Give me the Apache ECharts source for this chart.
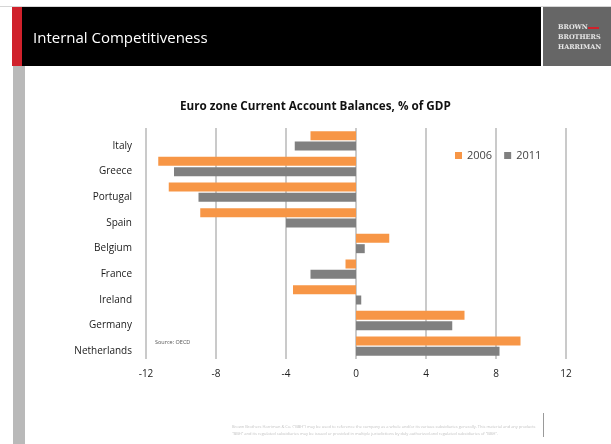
<!DOCTYPE html>
<html>
<head>
<meta charset="utf-8">
<style>
  html, body { margin: 0; padding: 0; background: #ffffff; }
  #chart { width: 611px; height: 444px; }
</style>
<script src="https://cdn.jsdelivr.net/npm/echarts@6/dist/echarts.min.js"></script>
</head>
<body>
<div id="chart"></div>
<script>
// Euro zone current account balances, % of GDP
const countries = ['Italy', 'Greece', 'Portugal', 'Spain', 'Belgium', 'France', 'Ireland', 'Germany', 'Netherlands'];
const balance2006 = [-2.6, -11.3, -10.7, -8.9, 1.9, -0.6, -3.6, 6.2, 9.4];
const balance2011 = [-3.5, -10.4, -9.0, -4.0, 0.5, -2.6, 0.3, 5.5, 8.2];
const seriesNames = ['2006', '2011'];
const xTicks = [-12, -8, -4, 0, 4, 8, 12];

const chart = echarts.init(document.getElementById('chart'), null, { renderer: 'canvas' });

const uiFont = '"Open Sans", "Liberation Sans", sans-serif';
const markFont = 'bold 6.5px "DejaVu Serif", serif';

chart.setOption({
  animation: false,
  backgroundColor: '#ffffff',
  title: {
    text: 'Euro zone Current Account Balances, % of GDP',
    left: 175,
    top: 96,
    textStyle: { fontFamily: uiFont, fontSize: 11.7, fontWeight: 'bold', color: '#111111' }
  },
  legend: {
    data: seriesNames,
    left: 450,
    top: 145,
    itemWidth: 7,
    itemHeight: 7,
    itemGap: 12,
    icon: 'rect',
    textStyle: { fontFamily: uiFont, fontSize: 11, color: '#444444' }
  },
  grid: { left: 146, right: 45, top: 128, bottom: 85, containLabel: false },
  xAxis: {
    type: 'value',
    min: xTicks[0],
    max: xTicks[xTicks.length - 1],
    interval: 4,
    axisLine: { show: false },
    axisTick: { show: false },
    splitLine: { show: true, lineStyle: { color: '#b8b8b8', width: 1.5 } },
    axisLabel: { margin: 10, fontFamily: uiFont, fontSize: 10, color: '#222222' }
  },
  yAxis: {
    type: 'category',
    data: countries,
    inverse: true,
    axisLine: { show: false },
    axisTick: { show: false },
    axisLabel: {
      margin: 14, verticalAlign: 'top', lineHeight: 10,
      fontFamily: uiFont, fontSize: 10, color: '#1a1a1a'
    }
  },
  series: [
    {
      name: seriesNames[0],
      type: 'bar',
      data: balance2006,
      barWidth: 9,
      barGap: '15%',
      itemStyle: { color: '#f79646' }
    },
    {
      name: seriesNames[1],
      type: 'bar',
      data: balance2011,
      barWidth: 9,
      barGap: '15%',
      itemStyle: { color: '#808080' }
    }
  ],
  graphic: [
    // slide header band
    { type: 'rect', shape: { x: 0, y: 6, width: 611, height: 1 }, style: { fill: '#d6d6d6' } },
    { type: 'rect', shape: { x: 12, y: 7, width: 10, height: 59 }, style: { fill: '#d0212b' } },
    { type: 'rect', shape: { x: 22, y: 7, width: 519, height: 59 }, style: { fill: '#000000' } },
    { type: 'rect', shape: { x: 543, y: 7, width: 68, height: 59 }, style: { fill: '#666666' } },
    { type: 'rect', shape: { x: 13, y: 66, width: 12, height: 378 }, style: { fill: '#b9b9b9' } },
    {
      type: 'text', left: 33, top: 31,
      style: { text: 'Internal Competitiveness', fill: '#ffffff', font: '15px ' + uiFont }
    },
    // firm mark
    { type: 'text', left: 558, top: 24, style: { text: 'BROWN', fill: '#e6e6e6', font: markFont } },
    { type: 'rect', shape: { x: 588, y: 27, width: 11, height: 2 }, style: { fill: '#d0212b' } },
    { type: 'text', left: 558, top: 34, style: { text: 'BROTHERS', fill: '#e6e6e6', font: markFont } },
    { type: 'text', left: 558, top: 44, style: { text: 'HARRIMAN', fill: '#e6e6e6', font: markFont } },
    // data source note
    {
      type: 'text', left: 155, top: 339,
      style: { text: 'Source: OECD', fill: '#555555', font: '5.5px ' + uiFont }
    },
    // footer disclaimer
    {
      type: 'text', left: 232, top: 423,
      style: {
        text: 'Brown Brothers Harriman & Co. ("BBH") may be used to reference the company as a whole and/or its various subsidiaries generally. This material and any products\n"BBH" and its regulated subsidiaries may be issued or provided in multiple jurisdictions by duly authorized and regulated subsidiaries of "BBH".',
        fill: '#c4c4c4',
        font: '4px ' + uiFont,
        lineHeight: 7
      }
    },
    { type: 'rect', shape: { x: 543, y: 413, width: 1, height: 24 }, style: { fill: '#9a9a9a' } }
  ]
});
</script>
</body>
</html>
